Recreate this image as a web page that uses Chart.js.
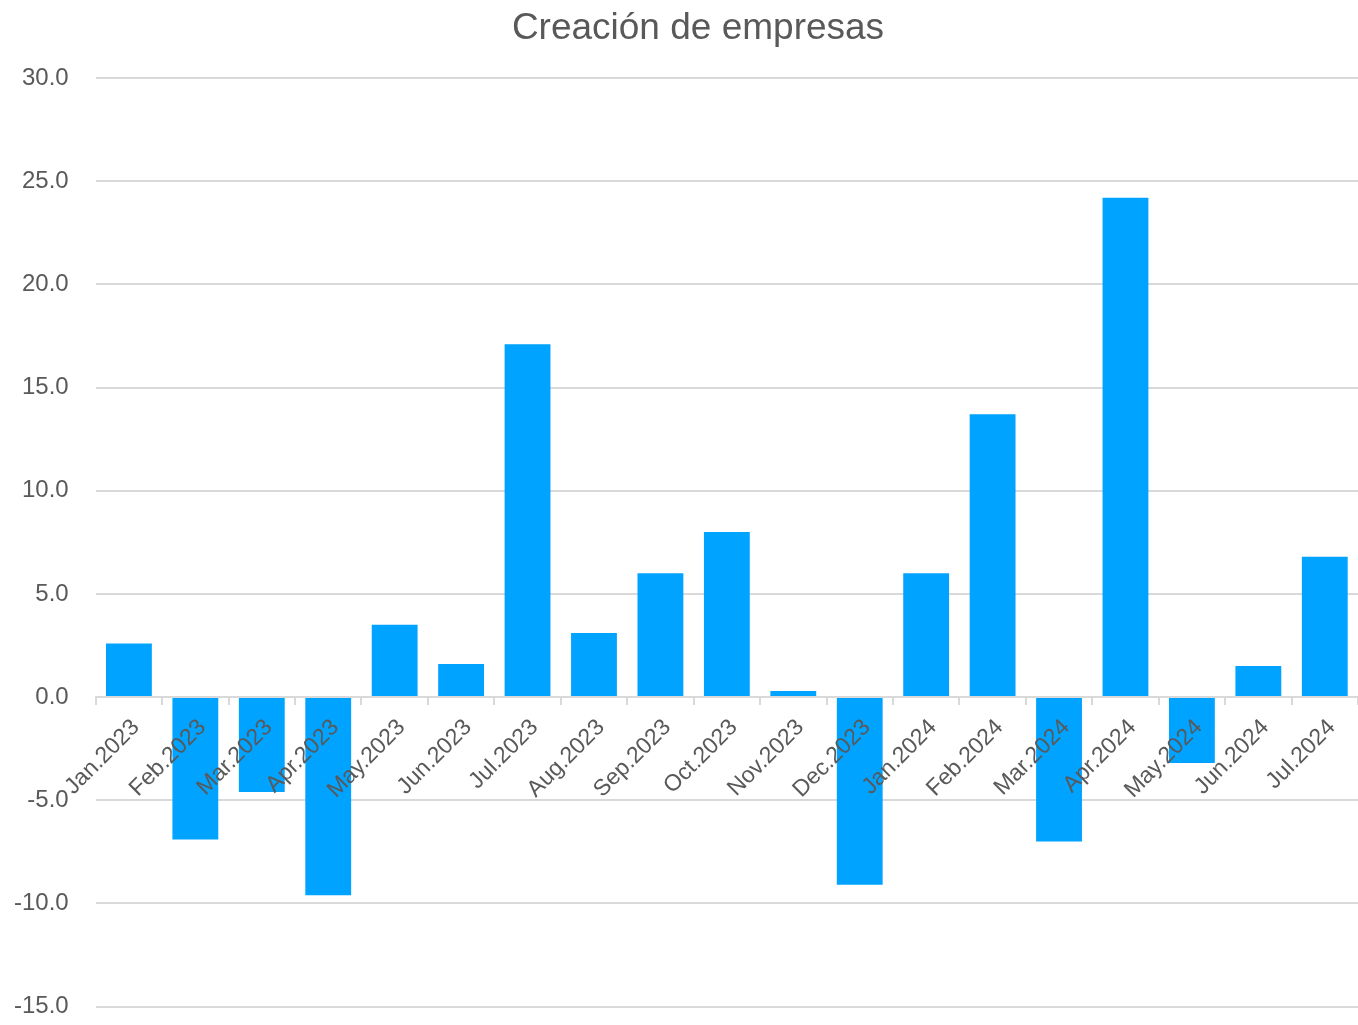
<!DOCTYPE html>
<html>
<head>
<meta charset="utf-8">
<script src="https://cdn.jsdelivr.net/npm/chart.js@4/dist/chart.umd.min.js"></script>
<style>
  html, body { margin: 0; padding: 0; background: #fff; }
  #wrap { position: relative; width: 1358px; height: 1025px; }
  #title {
    position: absolute; left: 0; top: 5px; width: 1396px; text-align: center;
    font: 37px 'Liberation Sans', Arial, sans-serif; color: #595959; line-height: 44px;
  }
</style>
</head>
<body>
<div id="wrap">
  <canvas id="chart" width="1358" height="1025"></canvas>
  <div id="title">Creación de empresas</div>
</div>
<script>
const months = ['Jan.2023', 'Feb.2023', 'Mar.2023', 'Apr.2023', 'May.2023', 'Jun.2023', 'Jul.2023',
  'Aug.2023', 'Sep.2023', 'Oct.2023', 'Nov.2023', 'Dec.2023', 'Jan.2024', 'Feb.2024',
  'Mar.2024', 'Apr.2024', 'May.2024', 'Jun.2024', 'Jul.2024'];
const creation = [2.6, -6.9, -4.6, -9.6, 3.5, 1.6, 17.1, 3.1, 6.0, 8.0, 0.3, -9.1,
  6.0, 13.7, -7.0, 24.2, -3.2, 1.5, 6.8];
const yMin = -15;
const yMax = 30;
const yStep = 5;

const textColor = '#595959';
const gridColor = '#d9d9d9';
const font = 'Liberation Sans, Arial, sans-serif';

new Chart(document.getElementById('chart').getContext('2d'), {
  type: 'bar',
  data: {
    labels: months,
    datasets: [{
      label: 'Creación de empresas',
      data: creation,
      backgroundColor: '#00a3ff',
      borderWidth: 0,
      barPercentage: 0.69,
      categoryPercentage: 1
    }]
  },
  options: {
    responsive: false,
    animation: false,
    devicePixelRatio: 1,
    layout: { padding: { left: 10, right: 0, top: 78, bottom: 0 } },
    plugins: {
      legend: { display: false },
      tooltip: { enabled: false },
      title: { display: false }
    },
    scales: {
      x: {
        position: { y: 0 },
        offset: true,
        grid: { display: true, drawOnChartArea: false, drawTicks: true, tickLength: 7, color: gridColor, lineWidth: 2 },
        border: { display: true, color: gridColor, width: 2, z: 1 },
        ticks: {
          z: 1,
          color: textColor,
          font: { family: font, size: 23 },
          maxRotation: 45,
          minRotation: 45,
          autoSkip: false,
          labelOffset: 7,
          padding: 10
        }
      },
      y: {
        min: yMin,
        max: yMax,
        grid: { color: gridColor, lineWidth: 2, drawTicks: true, tickLength: 23, tickColor: 'rgba(0,0,0,0)' },
        border: { display: false },
        ticks: {
          stepSize: yStep,
          color: textColor,
          font: { family: font, size: 24 },
          padding: 4,
          callback: v => v.toFixed(1)
        }
      }
    }
  }
});
</script>
</body>
</html>
